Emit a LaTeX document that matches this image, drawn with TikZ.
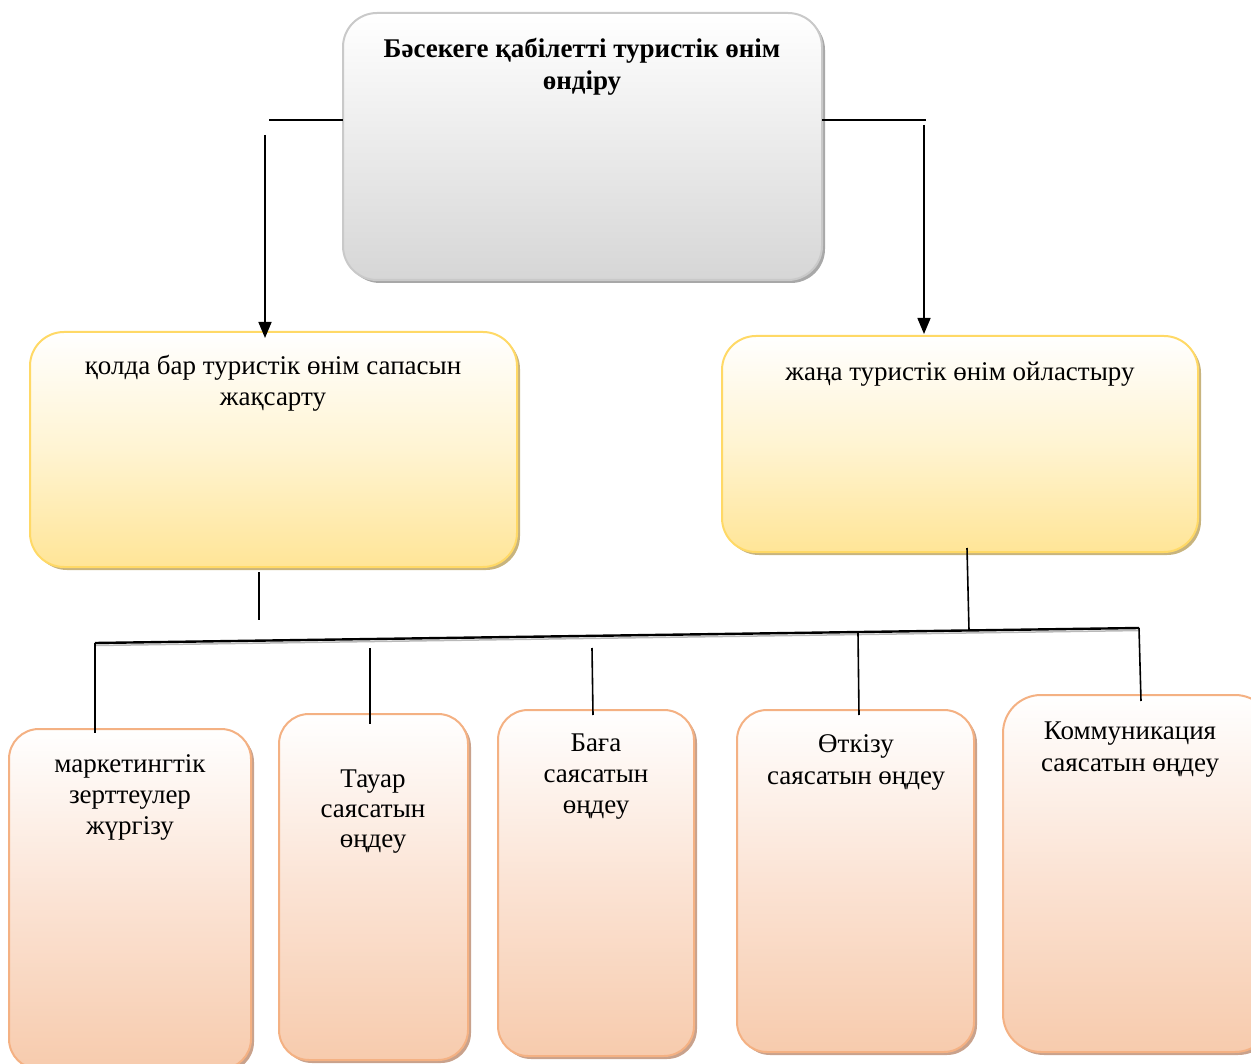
\documentclass[tikz,border=0pt]{standalone}
\usepackage{fontspec}
\setmainfont{Liberation Serif}
\usetikzlibrary{arrows.meta,shadows,calc}
\definecolor{grayedge}{HTML}{C9C9C9}
\definecolor{graybot}{HTML}{D6D6D6}
\definecolor{grayshad}{HTML}{A8A8A8}
\definecolor{yeledge}{HTML}{FFD966}
\definecolor{yelbot}{HTML}{FFE597}
\definecolor{yelmid}{HTML}{FFF4D2}
\definecolor{yelshad}{HTML}{C8B47E}
\definecolor{oredge}{HTML}{F4B183}
\definecolor{orbot}{HTML}{F7CBAD}
\definecolor{ormid}{HTML}{FBE3D4}
\definecolor{orshad}{HTML}{C9A28C}
\begin{document}
\begin{tikzpicture}[x=1pt,y=-1pt,
  boxbase/.style={rectangle,anchor=north west,inner sep=0pt,outer sep=0pt,line width=2pt},
  graybox/.style={boxbase,draw=grayedge,rounded corners=34pt,top color=white,bottom color=graybot,
     general shadow={fill=grayshad,shadow xshift=3pt,shadow yshift=-3pt}},
  yelbox/.style={boxbase,draw=yeledge,rounded corners=34pt,top color=white,bottom color=yelbot,middle color=yelmid,
     general shadow={fill=yelshad,shadow xshift=3pt,shadow yshift=-3pt}},
  orbox/.style={boxbase,draw=oredge,rounded corners=30pt,top color=white,bottom color=orbot,middle color=ormid,
     general shadow={fill=orshad,shadow xshift=3pt,shadow yshift=-3pt}},
  lbl/.style={anchor=base,align=center,inner sep=0pt,font=\fontsize{27}{31}\selectfont},
  conn/.style={line width=1.6pt,black},
  arr/.style={conn,-{Triangle[width=13pt,length=16pt]}}
]
\useasboundingbox (0,0) rectangle (1251,1064);

% boxes
\node[graybox,minimum width=479pt,minimum height=267pt] (top) at (343,13) {};
\node[yelbox,minimum width=487pt,minimum height=235pt] (left) at (30,332) {};
\node[yelbox,minimum width=476pt,minimum height=216pt] (right) at (722,336) {};
\node[orbox,minimum width=242pt,minimum height=340pt] (o1) at (9,729) {};
\node[orbox,minimum width=189pt,minimum height=346pt] (o2) at (279,714) {};
\node[orbox,minimum width=196pt,minimum height=346pt] (o3) at (498,710) {};
\node[orbox,minimum width=237pt,minimum height=342pt] (o4) at (737,710) {};
\node[orbox,rounded corners=38pt,minimum width=270pt,minimum height=357pt] (o5) at (1003,695) {};

% texts (anchor = baseline of last line)
\node[lbl,font=\fontsize{27}{32}\selectfont\bfseries] (ttop) at (582,90) {Бәсекеге қабілетті туристік өнім\\өндіру};
\node[lbl] (tleft) at (273,406) {қолда бар туристік өнім сапасын\\жақсарту};
\node[lbl] (tright) at (960,381) {жаңа туристік өнім ойластыру};
\node[lbl] (t1) at (130,834) {маркетингтік\\зерттеулер\\жүргізу};
\node[lbl,font=\fontsize{27}{30}\selectfont] (t2) at (373,847) {Тауар\\саясатын\\өңдеу};
\node[lbl] (t3) at (596,813) {Баға\\саясатын\\өңдеу};
\node[lbl,font=\fontsize{27}{32}\selectfont] (t4) at (856,784) {Өткізу\\саясатын өңдеу};
\node[lbl,font=\fontsize{27}{32}\selectfont] (t5) at (1130,771) {Коммуникация\\саясатын өңдеу};

% connectors from top box
\coordinate (lh) at (269,120);
\draw[conn] (lh) -- (lh -| top.west);
\coordinate (lv) at (265,135);
\draw[arr] (lv) -- ($(lv |- left.north)+(0,6)$);
\coordinate (rh) at (926,120);
\draw[conn] (rh) -- (rh -| top.east);
\coordinate (rv) at (924,125);
\draw[arr] (rv) -- ($(rv |- right.north)+(0,-2)$);

% drops from yellow boxes
\coordinate (ld1) at (259,572);
\coordinate (ld2) at (259,620);
\draw[conn] (ld1) -- (ld2);
\coordinate (rd1) at (967,548);
\coordinate (rd2) at (969,630);
\draw[conn] (rd1) -- (rd2);

% bus
\coordinate (busL) at (95,643);
\coordinate (busR) at (1139,628);
\draw[line width=1.5pt,gray!55] ($(busL)+(1,2.5)$) -- ($(busR)+(1,2.5)$);
\draw[line width=2.4pt,black] (busL) -- (busR);

% drops to orange boxes
\coordinate (d1a) at (95,643);  \coordinate (d1b) at (95,733);
\coordinate (d2a) at (370,648); \coordinate (d2b) at (370,724);
\coordinate (d3a) at (592,648); \coordinate (d3b) at (593,715);
\coordinate (d4a) at (858,633); \coordinate (d4b) at (859,715);
\coordinate (d5a) at (1139,628);\coordinate (d5b) at (1141,701);
\draw[conn] (d1a) -- (d1b);
\draw[conn] (d2a) -- (d2b);
\draw[conn] (d3a) -- (d3b);
\draw[conn] (d4a) -- (d4b);
\draw[conn] (d5a) -- (d5b);
\end{tikzpicture}
\end{document}
